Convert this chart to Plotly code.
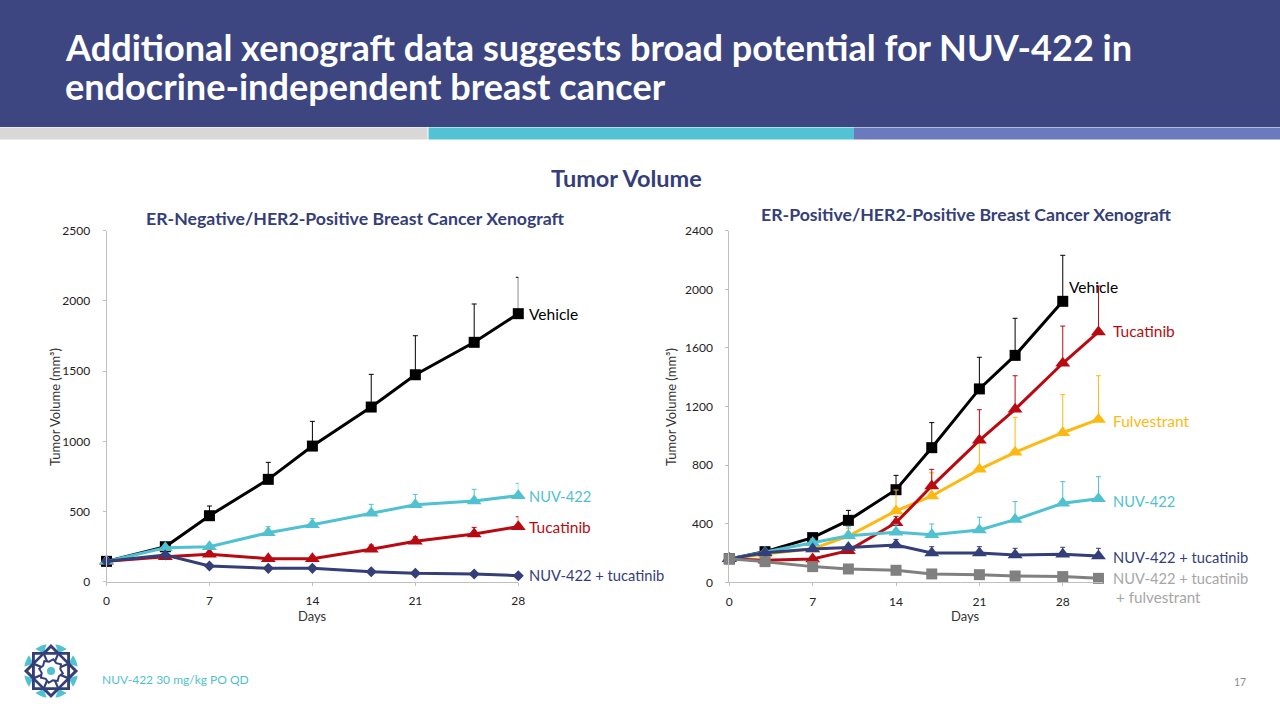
import math
import plotly.graph_objects as go

FONT = "Lato"
W, H = 1280, 720
NAVY, TEAL, RED, GOLD, GREY = "#343E78", "#4FC1D1", "#B90A12", "#FDB913", "#808080"

# ---------- left chart data ----------
l_days = [0, 4, 7, 11, 14, 18, 21, 25, 28]
l_vehicle = [145, 249, 470, 729, 966, 1244, 1474, 1705, 1909]
l_vehicle_err = [0, 10, 69, 121, 176, 233, 278, 273, 259]
l_tucatinib = [145, 178, 195, 164, 164, 231, 288, 340, 392]
l_tucatinib_err = [0, 8, 12, 10, 12, 30, 32, 47, 71]
l_nuv = [145, 242, 249, 349, 406, 487, 548, 575, 613]
l_nuv_err = [0, 10, 15, 43, 43, 64, 74, 83, 88]
l_combo = [145, 190, 112, 95, 95, 71, 60, 55, 43]
l_combo_err = [0, 0, 0, 0, 0, 0, 0, 0, 0]

# ---------- right chart data ----------
r_days = [0, 3, 7, 10, 14, 17, 21, 24, 28, 31]
r_vehicle = [160, 209, 305, 423, 632, 919, 1320, 1549, 1918]
r_vehicle_err = [0, 10, 25, 68, 98, 171, 216, 253, 314]
r_fulv = [160, 193, 228, 316, 487, 589, 771, 887, 1021, 1112]
r_fulv_err = [0, 10, 20, 53, 143, 159, 189, 239, 260, 298]
r_tuc = [160, 150, 159, 216, 407, 657, 969, 1181, 1495, 1709]
r_tuc_err = [0, 10, 12, 20, 43, 114, 209, 229, 254, 313]
r_nuv = [160, 205, 270, 318, 341, 325, 357, 428, 539, 571]
r_nuv_err = [0, 10, 25, 62, 55, 73, 87, 123, 148, 150]
r_combo = [160, 202, 228, 237, 255, 200, 200, 187, 191, 180]
r_combo_err = [0, 10, 15, 18, 38, 43, 43, 45, 48, 52]
r_triple = [160, 141, 107, 91, 82, 57, 52, 43, 39, 27]
r_triple_err = [0, 0, 0, 0, 0, 0, 0, 0, 0, 0]

l_yticks = [0, 500, 1000, 1500, 2000, 2500]
r_yticks = [0, 400, 800, 1200, 1600, 2000, 2400]
x_ticks = [0, 7, 14, 21, 28]


def xp(v):
    return v / W


def yp(v):
    return 1 - v / H


fig = go.Figure()


def series(x, y, err, color, symbol, size, width, xa, ya, name):
    fig.add_trace(go.Scatter(
        x=x[:len(y)], y=y, name=name, mode="lines+markers", xaxis=xa, yaxis=ya,
        line=dict(color=color, width=width),
        marker=dict(symbol=symbol, size=size, color=color),
        error_y=dict(type="data", symmetric=False, array=err, arrayminus=[0] * len(y),
                     color=color, thickness=1, width=2.5),
        cliponaxis=False, showlegend=False,
    ))


series(l_days, l_vehicle, l_vehicle_err, "#000000", "square", 11, 3, "x", "y", "Vehicle")
series(l_days, l_tucatinib, l_tucatinib_err, RED, "triangle-up", 13, 3, "x", "y", "Tucatinib")
series(l_days, l_nuv, l_nuv_err, TEAL, "triangle-up", 13, 3, "x", "y", "NUV-422")
series(l_days, l_combo, l_combo_err, NAVY, "diamond", 8.5, 3, "x", "y", "NUV-422 + tucatinib")

series(r_days, r_vehicle, r_vehicle_err, "#000000", "square", 11, 3, "x2", "y2", "Vehicle")
series(r_days, r_fulv, r_fulv_err, GOLD, "triangle-up", 13, 3, "x2", "y2", "Fulvestrant")
series(r_days, r_tuc, r_tuc_err, RED, "triangle-up", 13, 3, "x2", "y2", "Tucatinib")
series(r_days, r_nuv, r_nuv_err, TEAL, "triangle-up", 13, 3, "x2", "y2", "NUV-422")
series(r_days, r_combo, r_combo_err, NAVY, "triangle-up", 13, 3, "x2", "y2", "NUV-422 + tucatinib")
series(r_days, r_triple, r_triple_err, GREY, "square", 11, 3, "x2", "y2", "NUV-422 + tucatinib + fulvestrant")

shapes = []


def rect(x0, y0, x1, y1, color):
    shapes.append(dict(type="rect", xref="paper", yref="paper", layer="below",
                       x0=xp(x0), x1=xp(x1), y0=yp(y0), y1=yp(y1),
                       fillcolor=color, line=dict(width=0)))


rect(0, 0, 1280, 127, "#3D4680")
rect(0, 127.5, 427.5, 139.5, "#D9D8D6")
rect(428.5, 127.5, 854, 139.5, "#53C3D4")
rect(854, 127.5, 1280, 139.5, "#6A7ABD")

# decorative logo
cx, cy = 51, 671


def path(points, close=True):
    s = "M" + " L".join(f"{xp(a):.5f},{yp(b):.5f}" for a, b in points)
    return s + (" Z" if close else "")


def polar(r, deg):
    a = math.radians(deg)
    return (cx + r * math.cos(a), cy + r * math.sin(a))


for i in range(8):
    mid = i * 45 + 22.5
    pts = [polar(27, mid - 13 + k * 26 / 6) for k in range(7)] + [polar(19, mid)]
    shapes.append(dict(type="path", xref="paper", yref="paper", path=path(pts),
                       fillcolor=TEAL, line=dict(width=0)))
for offset in (0, 45):
    square = [polar(25, offset + k * 90) for k in range(4)]
    shapes.append(dict(type="path", xref="paper", yref="paper", path=path(square),
                       fillcolor="white", line=dict(color=NAVY, width=2.6)))
for offset in (0, 45):
    square = [polar(25, offset + k * 90) for k in range(4)]
    shapes.append(dict(type="path", xref="paper", yref="paper", path=path(square),
                       fillcolor="rgba(0,0,0,0)", line=dict(color=NAVY, width=2.6)))
for i in range(8):
    shapes.append(dict(type="path", xref="paper", yref="paper",
                       path=path([polar(9, i * 45 + 22.5), polar(18, i * 45 + 22.5)], close=False),
                       line=dict(color=NAVY, width=2.2)))
ring = [polar(12 if i % 2 == 0 else 9.5, i * 22.5 + 11.25) for i in range(16)]
shapes.append(dict(type="path", xref="paper", yref="paper", path=path(ring),
                   fillcolor="white", line=dict(color=NAVY, width=2)))
shapes.append(dict(type="circle", xref="paper", yref="paper",
                   x0=xp(cx - 4), x1=xp(cx + 4), y0=yp(cy + 4), y1=yp(cy - 4),
                   fillcolor=TEAL, line=dict(width=0)))


def text(x, y, s, size, color, anchor="left", bold=False, angle=0):
    fig.add_annotation(xref="paper", yref="paper", x=xp(x), y=yp(y), text=f"<b>{s}</b>" if bold else s,
                       showarrow=False, xanchor=anchor, yanchor="middle", textangle=angle,
                       font=dict(family=FONT, size=size, color=color),
                       borderpad=0, borderwidth=0, align="left")


text(65, 47, "Additional xenograft data suggests broad potential for NUV-422 in", 36.1, "white", bold=True)
text(65, 86, "endocrine-independent breast cancer", 36.1, "white", bold=True)
text(626.5, 177.5, "Tumor Volume", 23.5, NAVY, "center", bold=True)
text(355, 218.5, "ER-Negative/HER2-Positive Breast Cancer Xenograft", 17.7, NAVY, "center", bold=True)
text(966.5, 214.5, "ER-Positive/HER2-Positive Breast Cancer Xenograft", 17.7, NAVY, "center", bold=True)

text(529, 314, "Vehicle", 15.5, "#000000")
text(529, 496.5, "NUV-422", 14.6, TEAL)
text(529, 527, "Tucatinib", 15.5, RED)
text(529, 575, "NUV-422 + tucatinib", 14.7, NAVY)

text(1069, 287, "Vehicle", 15.5, "#000000")
text(1113, 331, "Tucatinib", 15.5, RED)
text(1113, 421, "Fulvestrant", 15.5, GOLD)
text(1113, 501, "NUV-422", 14.6, TEAL)
text(1113, 557, "NUV-422 + tucatinib", 14.7, NAVY)
text(1113, 578, "NUV-422 + tucatinib", 14.7, "#A6A6A6")
text(1116, 597, "+ fulvestrant", 15.2, "#A6A6A6")

text(55, 407, "Tumor Volume (mm³)", 13, "#333333", "center", angle=-90)
text(671, 407, "Tumor Volume (mm³)", 13, "#333333", "center", angle=-90)
text(312, 616, "Days", 13, "#333333", "center")
text(965, 616, "Days", 13, "#333333", "center")
text(102, 679, "NUV-422 30 mg/kg PO QD", 12, TEAL)
text(1240, 682, "17", 10.5, "#8C8C8C", "center")

axis_common = dict(showgrid=False, zeroline=False, showline=True, linecolor="#BFBFBF", linewidth=1,
                   ticks="outside", ticklen=3, tickcolor="#BFBFBF", tickwidth=1,
                   tickfont=dict(family=FONT, size=12, color="#222222"))

fig.update_layout(
    width=W, height=H, margin=dict(l=0, r=0, t=0, b=0, autoexpand=False), autosize=False,
    paper_bgcolor="white", plot_bgcolor="white", showlegend=False, shapes=shapes,
    xaxis=dict(domain=[xp(106.5), xp(518.3)], range=[0, 28], tickvals=x_ticks, anchor="y",
               ticklabelstandoff=5, **axis_common),
    yaxis=dict(domain=[yp(581.7), yp(230.7)], range=[0, 2500], tickvals=l_yticks, anchor="x",
               ticklabelstandoff=10, **axis_common),
    xaxis2=dict(domain=[xp(729.3), xp(1103)], range=[0, 31.38], tickvals=x_ticks, anchor="y2",
                ticklabelstandoff=5, **axis_common),
    yaxis2=dict(domain=[yp(582.3), yp(230.7)], range=[0, 2400], tickvals=r_yticks, anchor="x2",
                ticklabelstandoff=10, **axis_common),
)

PIN = ("var gd=document.getElementById('{plot_id}');"
       "gd.style.position='fixed';gd.style.left='0px';gd.style.top='0px';"
       "gd.style.margin='0';document.documentElement.style.overflow='hidden';"
       "document.body.style.margin='0';document.body.style.overflow='hidden';")

fig.write_html("out.html", config={"displayModeBar": False}, post_script=PIN)
